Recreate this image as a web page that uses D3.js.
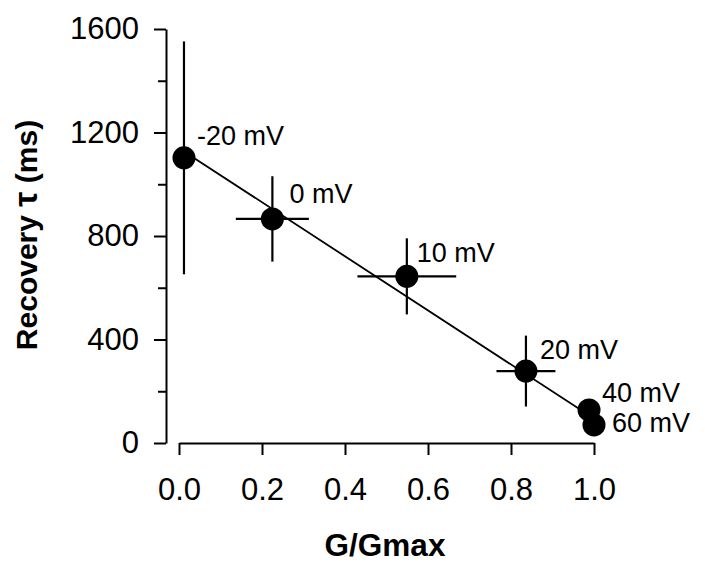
<!DOCTYPE html>
<html>
<head>
  <title>Recovery tau vs G/Gmax</title>
  <script src="https://d3js.org/d3.v7.min.js"></script>
  <style>
    body { margin: 0; background: white; }
    svg { display: block; }
    .axis text { font-family: "Liberation Sans", Arial, sans-serif; font-size: 31px; fill: black; }
    .axis path, .axis line { stroke: black; stroke-width: 2px; }
    .axis-label { font-family: "Liberation Sans", Arial, sans-serif; font-size: 30px; font-weight: bold; }
    .pt-label { font-family: "Liberation Sans", Arial, sans-serif; font-size: 27px; }
  </style>
</head>
<body>
<div id="chart"></div>
<script>
  // Data
  const voltages = ["-20 mV", "0 mV", "10 mV", "20 mV", "40 mV", "60 mV"];
  const gRatio = [0.012, 0.225, 0.549, 0.836, 0.988, 1.0];
  const gErr = [0, 0.088, 0.119, 0.071, 0, 0];
  const tau = [1102, 866, 644, 278, 128, 70];
  const tauErr = [450, 165, 147, 137, 0, 0];

  // Regression line endpoints
  const fitG = [0.012, 0.988];
  const fitTau = [1127, 107];

  const xTicks = [0, 0.2, 0.4, 0.6, 0.8, 1.0];
  const yTicks = [0, 400, 800, 1200, 1600];
  const yMinorTicks = [200, 600, 1000, 1400];

  // label nudges (px) from each point centre
  const labelNudge = [[13, -13], [17, -16], [10, -14], [14, -12], [13, -8], [18, 7]];

  const W = 705, H = 565;
  const svg = d3.select("#chart").append("svg")
    .attr("width", W)
    .attr("height", H);

  const x = d3.scaleLinear().domain([0, 1]).range([179, 594]);
  const y = d3.scaleLinear().domain([0, 1600]).range([443, 29]);
  const yAxisX = 166;

  // y axis with minor ticks
  svg.append("g")
    .attr("class", "axis")
    .attr("transform", `translate(${yAxisX},0)`)
    .call(d3.axisLeft(y).tickValues(yMinorTicks).tickSize(8).tickFormat(""))
    .select(".domain").remove();
  svg.append("g")
    .attr("class", "axis")
    .attr("transform", `translate(${yAxisX},0)`)
    .call(d3.axisLeft(y).tickValues(yTicks).tickSizeInner(12).tickSizeOuter(0).tickPadding(15).tickFormat(d3.format("d")));

  // x axis
  svg.append("g")
    .attr("class", "axis")
    .attr("transform", `translate(0,${y(0)})`)
    .call(d3.axisBottom(x).tickValues(xTicks).tickSizeInner(12).tickSizeOuter(0).tickPadding(23).tickFormat(d3.format(".1f")));

  // axis titles
  svg.append("text")
    .attr("class", "axis-label")
    .attr("x", 385)
    .attr("y", 556)
    .attr("text-anchor", "middle")
    .style("font-size", "31.5px")
    .text("G/Gmax");
  const yl = svg.append("text")
    .attr("class", "axis-label")
    .attr("transform", "translate(37,235) rotate(-90)")
    .attr("text-anchor", "middle");
  yl.append("tspan").text("Recovery ");
  yl.append("tspan").text("τ").style("font-size", "34px");
  yl.append("tspan").text(" (ms)");

  // regression line
  svg.append("line")
    .attr("x1", x(fitG[0])).attr("y1", y(fitTau[0]))
    .attr("x2", x(fitG[1])).attr("y2", y(fitTau[1]))
    .attr("stroke", "black")
    .attr("stroke-width", 1.8);

  const pts = voltages.map((v, i) => ({ v, g: gRatio[i], ge: gErr[i], t: tau[i], te: tauErr[i], n: labelNudge[i] }));

  // error bars
  const eb = svg.append("g").attr("stroke", "black").attr("stroke-width", 2.2);
  eb.selectAll(".vbar")
    .data(pts.filter(d => d.te > 0))
    .join("line")
    .attr("x1", d => x(d.g)).attr("x2", d => x(d.g))
    .attr("y1", d => y(d.t - d.te)).attr("y2", d => y(d.t + d.te));
  eb.selectAll(".hbar")
    .data(pts.filter(d => d.ge > 0))
    .join("line")
    .attr("x1", d => x(d.g - d.ge)).attr("x2", d => x(d.g + d.ge))
    .attr("y1", d => y(d.t)).attr("y2", d => y(d.t));

  // points
  svg.selectAll(".dot")
    .data(pts)
    .join("circle")
    .attr("class", "dot")
    .attr("cx", d => x(d.g))
    .attr("cy", d => y(d.t))
    .attr("r", 11.5)
    .attr("fill", "black");

  // point labels
  svg.selectAll(".pt-label")
    .data(pts)
    .join("text")
    .attr("class", "pt-label")
    .attr("x", d => x(d.g) + d.n[0])
    .attr("y", d => y(d.t) + d.n[1])
    .text(d => d.v);
</script>
</body>
</html>
